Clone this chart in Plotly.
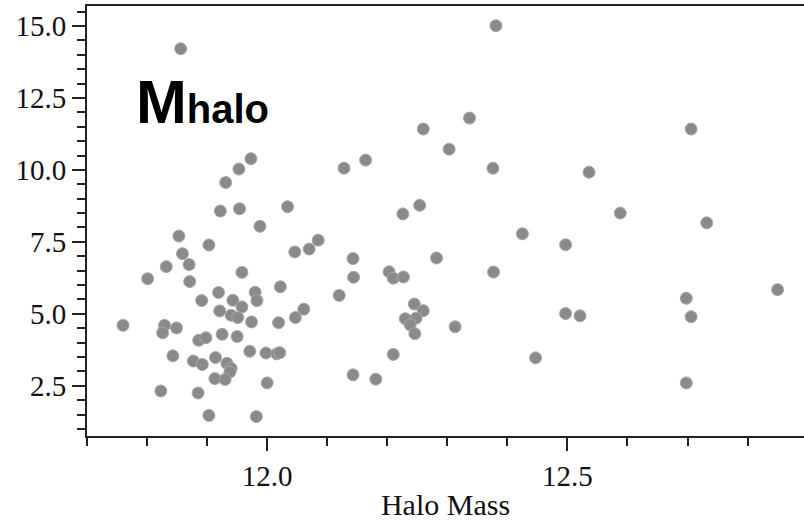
import plotly.graph_objects as go

halo_mass = [11.856, 12.381, 12.337, 12.260, 12.706, 12.303, 12.164, 12.128, 12.376, 12.536,
             11.973, 11.953, 11.931, 11.922, 11.954, 12.034, 11.988, 11.853, 11.903, 11.859,
             12.046, 12.070, 12.085, 11.832, 11.870, 11.801, 11.871, 11.958, 11.919, 11.980,
             11.983, 11.891, 11.943, 12.022, 11.921, 11.958, 11.940, 11.951, 11.974, 12.019,
             12.047, 12.061, 11.760, 11.829, 11.826, 11.849, 11.886, 11.898, 11.925, 11.950,
             11.843, 11.877, 11.892, 11.914, 11.933, 11.940, 11.938, 11.913, 11.930, 11.971,
             11.998, 12.016, 12.021, 12.000, 11.823, 11.885, 11.903, 11.982, 12.226, 12.254,
             12.588, 12.732, 12.425, 12.497, 12.143, 12.144, 12.203, 12.210, 12.227, 12.282,
             12.377, 12.120, 12.245, 12.260, 12.248, 12.230, 12.238, 12.246, 12.313, 12.850,
             12.698, 12.706, 12.497, 12.521, 12.210, 12.447, 12.143, 12.181, 12.698]

values = [14.21, 15.01, 11.80, 11.42, 11.42, 10.72, 10.34, 10.06, 10.06, 9.92,
          10.39, 10.03, 9.56, 8.57, 8.65, 8.72, 8.04, 7.70, 7.39, 7.09,
          7.15, 7.25, 7.56, 6.64, 6.71, 6.22, 6.12, 6.44, 5.74, 5.75,
          5.46, 5.46, 5.47, 5.94, 5.10, 5.24, 4.95, 4.87, 4.72, 4.69,
          4.87, 5.16, 4.60, 4.60, 4.34, 4.51, 4.08, 4.17, 4.29, 4.21,
          3.54, 3.36, 3.24, 3.48, 3.28, 3.10, 2.98, 2.75, 2.72, 3.70,
          3.64, 3.61, 3.65, 2.60, 2.32, 2.25, 1.47, 1.43, 8.47, 8.77,
          8.50, 8.16, 7.78, 7.40, 6.92, 6.27, 6.46, 6.24, 6.28, 6.94,
          6.45, 5.64, 5.34, 5.11, 4.85, 4.83, 4.62, 4.31, 4.55, 5.84,
          5.54, 4.90, 5.01, 4.93, 3.59, 3.47, 2.88, 2.73, 2.60]

x_title = "Halo Mass"
label_main = "M"
label_sub = "halo"

fig = go.Figure()
fig.add_trace(go.Scatter(
    x=halo_mass, y=values, mode="markers",
    marker=dict(size=12, color="#8a8a8a", line=dict(color="#a8a8a8", width=1)),
    showlegend=False,
))

axis_font = dict(family="Liberation Serif", size=29, color="#111")
fig.update_layout(
    width=804, height=523,
    margin=dict(l=87, r=0, t=6, b=87),
    paper_bgcolor="white", plot_bgcolor="white",
    xaxis=dict(
        range=[11.7, 12.894], dtick=0.5, tick0=12.0, tickformat=".1f",
        showgrid=False, zeroline=False,
        showline=True, linecolor="#222", linewidth=2, mirror=True,
        ticks="outside", ticklen=13, tickwidth=2, tickcolor="#222",
        minor=dict(dtick=0.1, ticks="outside", ticklen=8, tickwidth=1.5, tickcolor="#222", showgrid=False),
        tickfont=axis_font,
        title=dict(text=x_title, font=dict(family="Liberation Serif", size=30, color="#111"), standoff=3),
    ),
    yaxis=dict(
        range=[0.756, 15.694], dtick=2.5, tick0=0, tickformat=".1f",
        showgrid=False, zeroline=False,
        showline=True, linecolor="#222", linewidth=2, mirror=False,
        ticks="outside", ticklen=13, tickwidth=2, tickcolor="#222",
        minor=dict(dtick=0.5, ticks="outside", ticklen=8, tickwidth=1.5, tickcolor="#222", showgrid=False),
        tickfont=axis_font,
    ),
    annotations=[dict(
        xref="paper", yref="paper", x=0.065, y=0.692,
        xanchor="left", yanchor="bottom", showarrow=False,
        text="<b>" + label_main + "<span style='font-size:40px'>" + label_sub + "</span></b>",
        font=dict(family="Liberation Sans", size=61, color="black"),
    )],
)

fig.write_html("out.html")
